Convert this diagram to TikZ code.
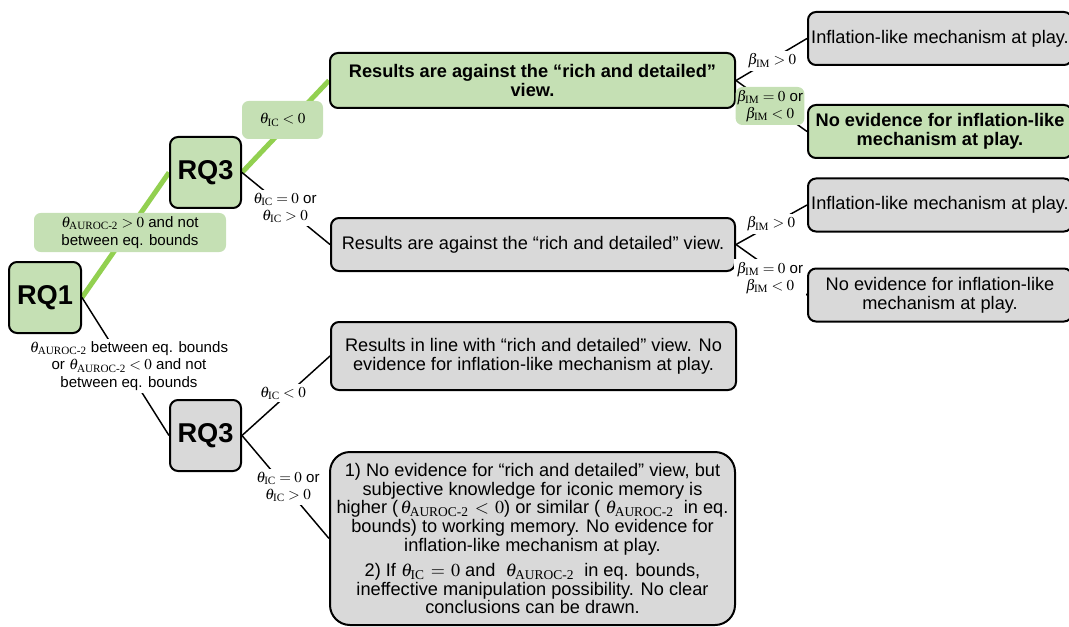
\documentclass[tikz,border=0pt]{standalone}
\usepackage{amsmath}
\usepackage{mathptmx}
\usepackage[no-math]{fontspec}
\setmainfont{Liberation Sans}
\newfontfamily\timesf{Liberation Serif}
\newcommand\sub[1]{\text{\timesf #1}}
\usetikzlibrary{backgrounds}
\definecolor{gfill}{HTML}{C5E0B4}
\definecolor{greyfill}{HTML}{D9D9D9}
\definecolor{gline}{HTML}{92D050}
\begin{document}
\begin{tikzpicture}[x=0.75pt,y=-0.75pt,
 box/.style={draw=black, line width=1.5pt, rounded corners=6pt, inner sep=1pt, align=center, font=\fontsize{13.65}{14}\selectfont},
 gbox/.style={box, fill=gfill},
 ybox/.style={box, fill=greyfill},
 rq/.style={draw=black, line width=1.5pt, rounded corners=6pt, minimum width=71*0.75pt, minimum height=71*0.75pt, font=\fontsize{20.4}{24}\selectfont\bfseries, inner sep=0pt},
 lab/.style={align=center, font=\fontsize{11.3}{13}\selectfont, inner sep=2pt, fill=white},
 glab/.style={lab, fill=gfill, rounded corners=5pt},
 link/.style={line width=1.1pt, draw=black},
 glink/.style={line width=3.75pt, draw=gline},
]
\useasboundingbox (0,0) rectangle (1069,627);
\clip (0,0) rectangle (1069,627);

% decision nodes
\node[rq, fill=gfill, minimum width=72*0.75pt] (rq1) at (45,297.5) {RQ1};
\node[rq, fill=gfill] (rq3a) at (205.5,172.5) {RQ3};
\node[rq, fill=greyfill] (rq3b) at (205.5,435.5) {RQ3};

% outcome boxes
\node[gbox, minimum width=405*0.75pt, minimum height=55*0.75pt, font=\fontsize{13.65}{14}\selectfont\bfseries] (A) at (532.5,80.5) {Results are against the “rich and detailed”\\view.};
\node[ybox, minimum width=404*0.75pt, minimum height=53*0.75pt] (B) at (533,244.5) {Results are against the “rich and detailed” view.};
\node[ybox, minimum width=405*0.75pt, minimum height=68*0.75pt] (C) at (533.5,356) {Results in line with “rich and detailed” view. No\\evidence for inflation-like mechanism at play.};
\node[ybox, rounded corners=15pt, minimum width=405*0.75pt, minimum height=173*0.75pt] (D) at (532.5,538.5) {1) No evidence for “rich and detailed” view, but\\subjective knowledge for iconic memory is\\higher ($\,\theta_{\sub{AUROC-2}}\,<\,0$) or similar ( $\theta_{\sub{AUROC-2}}$ \ in eq.\\bounds) to working memory. No evidence for\\inflation-like mechanism at play.\\[5pt]2) If $\theta_{\sub{IC}}\,=\,0$ and \ $\theta_{\sub{AUROC-2}}$ \ in eq. bounds,\\ineffective manipulation possibility. No clear\\conclusions can be drawn.};

\node[ybox, minimum width=264*0.75pt, minimum height=53*0.75pt] (R1) at (940,38.5) {Inflation-like mechanism at play.};
\node[gbox, minimum width=264*0.75pt, minimum height=53*0.75pt, font=\fontsize{13.65}{14}\selectfont\bfseries] (R2) at (940,131.5) {No evidence for inflation-like\\mechanism at play.};
\node[ybox, minimum width=264*0.75pt, minimum height=53*0.75pt] (R3) at (940,205) {Inflation-like mechanism at play.};
\node[ybox, minimum width=264*0.75pt, minimum height=53*0.75pt] (R4) at (940,295) {No evidence for inflation-like\\mechanism at play.};

% connectors
\begin{pgfonlayer}{background}
\draw[glink] (rq1.east) -- (rq3a.west);
\draw[glink] (rq3a.east) -- (A.west);
\draw[link] (rq3a.east) -- (B.west);
\draw[link] (rq1.east) -- (rq3b.west);
\draw[link] (rq3b.east) -- (C.west);
\draw[link] (rq3b.east) -- (D.west);
\draw[link] (A.east) -- (R1.west);
\draw[link] (A.east) -- (R2.west);
\draw[link] (B.east) -- (R3.west);
\draw[link] (B.east) -- (R4.west);
\end{pgfonlayer}

% labels
\node[glab, minimum width=192*0.75pt, minimum height=39*0.75pt] (l1) at (130,232.5) {$\theta_{\sub{AUROC-2}} > 0$ and not\\between eq. bounds};
\node[glab, minimum width=81*0.75pt, minimum height=38*0.75pt] (l2) at (282.5,120) {$\theta_{\sub{IC}} < 0$};
\node[lab] (l3) at (285,208) {$\theta_{\sub{IC}} = 0$ or\\$\theta_{\sub{IC}} > 0$};
\node[lab] (l4) at (129,366) {$\theta_{\sub{AUROC-2}}$ between eq. bounds\\or $\theta_{\sub{AUROC-2}} < 0$ and not\\between eq. bounds};
\node[lab] (l5) at (283,393) {$\theta_{\sub{IC}} < 0$};
\node[lab] (l6) at (288,487) {$\theta_{\sub{IC}} = 0$ or\\$\theta_{\sub{IC}} > 0$};
\node[lab] (l7) at (772,61) {$\beta_{\sub{IM}} > 0$};
\node[glab, minimum width=66*0.75pt, minimum height=38*0.75pt, inner sep=1pt] (l8) at (770,106) {$\beta_{\sub{IM}} = 0$ or\\$\beta_{\sub{IM}} < 0$};
\node[lab] (l9) at (771,224) {$\beta_{\sub{IM}} > 0$};
\node[lab] (l10) at (770,278) {$\beta_{\sub{IM}} = 0$ or\\$\beta_{\sub{IM}} < 0$};
\end{tikzpicture}
\end{document}
